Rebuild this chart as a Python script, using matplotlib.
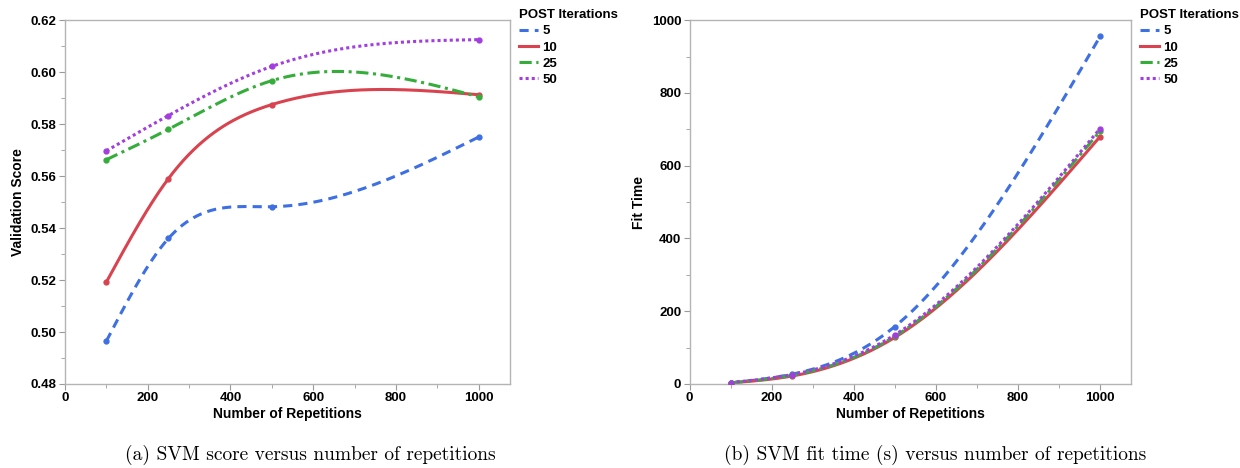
import numpy as np
import matplotlib
matplotlib.use("Agg")
import matplotlib.pyplot as plt
from matplotlib.ticker import MultipleLocator, FormatStrFormatter

reps = [100, 250, 500, 1000]
series_names = ["5", "10", "25", "50"]
score_5 = [0.4965, 0.5360, 0.5482, 0.5750]
score_10 = [0.5192, 0.5590, 0.5875, 0.5913]
score_25 = [0.5663, 0.5780, 0.5967, 0.5905]
score_50 = [0.5697, 0.5833, 0.6022, 0.6125]
time_5 = [3, 27, 158, 955]
time_10 = [3, 22, 128, 680]
time_25 = [3, 24, 131, 695]
time_50 = [4, 26, 135, 702]

colors = ["#3e6fe3", "#d9434f", "#35ad3b", "#a23ee0"]
styles = [(0, (3, 2)), "-", (0, (4, 1.5, 1, 1.5)), (0, (1, 1))]
widths = [2.2, 2.2, 2.2, 2.2]

plt.rcParams["font.family"] = ["Liberation Sans", "DejaVu Sans"]
fig = plt.figure(figsize=(12.4, 4.68), dpi=100)
ax1 = fig.add_axes([0.0524, 0.1795, 0.3586, 0.7775])
ax2 = fig.add_axes([0.5561, 0.1795, 0.3559, 0.7775])


def natural_spline(x, y, n=300):
    x = np.asarray(x, float)
    y = np.asarray(y, float)
    k = len(x)
    h = np.diff(x)
    A = np.zeros((k, k))
    b = np.zeros(k)
    A[0, 0] = 1
    A[-1, -1] = 1
    for i in range(1, k - 1):
        A[i, i - 1] = h[i - 1]
        A[i, i] = 2 * (h[i - 1] + h[i])
        A[i, i + 1] = h[i]
        b[i] = 3 * ((y[i + 1] - y[i]) / h[i] - (y[i] - y[i - 1]) / h[i - 1])
    c = np.linalg.solve(A, b)
    xs = np.linspace(x[0], x[-1], n)
    ys = np.empty_like(xs)
    for j, xv in enumerate(xs):
        i = min(np.searchsorted(x, xv, side="right") - 1, k - 2)
        dx = xv - x[i]
        bi = (y[i + 1] - y[i]) / h[i] - h[i] * (2 * c[i] + c[i + 1]) / 3
        di = (c[i + 1] - c[i]) / (3 * h[i])
        ys[j] = y[i] + bi * dx + c[i] * dx ** 2 + di * dx ** 3
    return xs, ys


def draw(ax, data, ylim, ymaj, ymin, ylabel, yfmt):
    for vals, c, ls, lw, name in zip(data, colors, styles, widths, series_names):
        xs, ys = natural_spline(reps, vals)
        ax.plot(xs, ys, color=c, linestyle=ls, linewidth=lw, label=name)
        ax.plot(reps, vals, "o", color=c, markersize=3.5, zorder=3)
    ax.set_xlim(0, 1075)
    ax.set_ylim(*ylim)
    ax.xaxis.set_major_locator(MultipleLocator(200))
    ax.xaxis.set_minor_locator(MultipleLocator(100))
    ax.yaxis.set_major_locator(MultipleLocator(ymaj))
    ax.yaxis.set_minor_locator(MultipleLocator(ymin))
    ax.yaxis.set_major_formatter(yfmt)
    for s in ax.spines.values():
        s.set_color("#b4b4b4")
        s.set_linewidth(1.0)
    ax.tick_params(which="both", color="#9a9a9a", direction="out")
    ax.tick_params(which="major", length=4, labelsize=9.5, pad=2)
    ax.tick_params(which="minor", length=3)
    for lab in ax.get_xticklabels() + ax.get_yticklabels():
        lab.set_fontweight("bold")
    ax.set_xlabel("Number of Repetitions", fontsize=10, fontweight="bold", labelpad=2)
    ax.set_ylabel(ylabel, fontsize=10, fontweight="bold", labelpad=4)
    leg = ax.legend(loc="upper left", bbox_to_anchor=(1.02, 1.03), frameon=False,
                    title="POST Iterations", fontsize=9.5, handlelength=1.5,
                    handletextpad=0.3, labelspacing=0.3, borderpad=0, borderaxespad=0)
    leg.get_title().set_fontweight("bold")
    leg.get_title().set_fontsize(9.5)
    leg._legend_box.align = "left"
    for t in leg.get_texts():
        t.set_fontweight("bold")


draw(ax1, [score_5, score_10, score_25, score_50], (0.48, 0.62), 0.02, 0.01,
     "Validation Score", FormatStrFormatter("%.2f"))
draw(ax2, [time_5, time_10, time_25, time_50], (0, 1000), 200, 100,
     "Fit Time", FormatStrFormatter("%d"))

fig.text(0.25, 0.028, "(a) SVM score versus number of repetitions",
         ha="center", va="center", fontsize=14, family="cmr10")
fig.text(0.754, 0.028, "(b) SVM fit time (s) versus number of repetitions",
         ha="center", va="center", fontsize=14, family="cmr10")

fig.savefig("out.png", dpi=100, facecolor="white")
